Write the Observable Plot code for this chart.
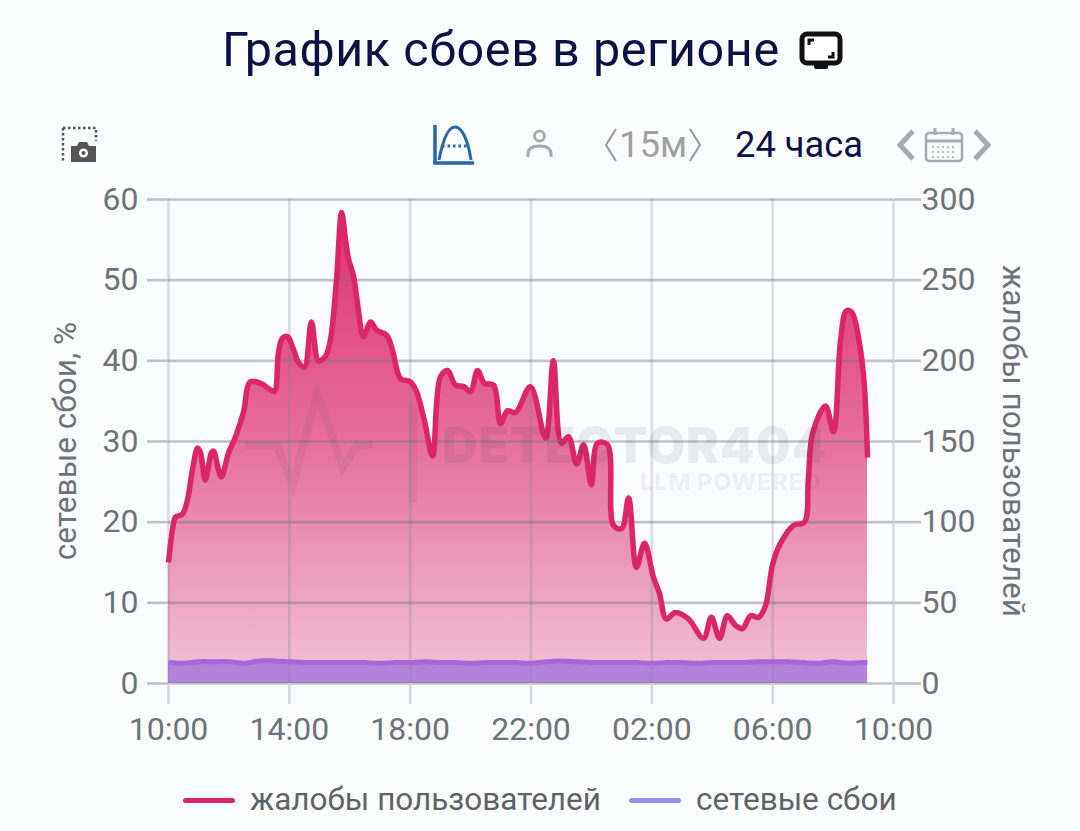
<!DOCTYPE html>
<html lang="ru"><head><meta charset="utf-8">
<script src="https://cdn.jsdelivr.net/npm/d3@7"></script>
<script src="https://cdn.jsdelivr.net/npm/@observablehq/plot@0.6"></script>
<style>
html,body{margin:0;padding:0;background:#fbfcfe;width:1080px;height:831px;overflow:hidden;font-family:Roboto,sans-serif}
.abs{position:absolute;white-space:nowrap}
#chart{position:absolute;left:0;top:170px}
#chart svg{background:transparent;overflow:visible}
.legline{position:absolute;height:5px;border-radius:3px;top:798px}
</style></head><body>
<div class="abs" style="left:222px;top:21px;font-size:48.5px;line-height:58px;color:#0b1145;letter-spacing:.58px">График сбоев в регионе</div>
<svg class="abs" style="left:798px;top:30px" width="46" height="42" viewBox="0 0 46 42"><rect x="4" y="4" width="38" height="29" rx="5" fill="#fff" stroke="#111" stroke-width="5"/><path d="M11 15V10H16M35 22V27H30" fill="none" stroke="#111" stroke-width="3"/><rect x="16" y="33" width="14" height="6" rx="2" fill="#111"/></svg>
<svg class="abs" style="left:60px;top:125px" width="40" height="40" viewBox="0 0 40 40"><path d="M3 3H36V16M3 3V37" fill="none" stroke="#555" stroke-width="2.5" stroke-dasharray="2.5 2.5"/><path d="M11 21H17L19 17H27L29 21H36V37H11Z" fill="#555"/><circle cx="23.5" cy="28" r="4.5" fill="#fff"/><circle cx="23.5" cy="28" r="2" fill="#555"/></svg>
<svg class="abs" style="left:430px;top:122px" width="48" height="46" viewBox="0 0 48 46"><path d="M5 3V41H44" fill="none" stroke="#2467ad" stroke-width="3.5"/><path d="M9 38C14 12 20 5 25 5C32 5 38 18 41 38" fill="none" stroke="#2467ad" stroke-width="3"/><path d="M12 24H39" stroke="#2467ad" stroke-width="3" stroke-dasharray="2.5 3"/></svg>
<svg class="abs" style="left:524px;top:128px" width="32" height="32" viewBox="0 0 32 32"><circle cx="15.5" cy="8" r="5" fill="none" stroke="#aaa" stroke-width="3"/><path d="M4 29V26C4 20 9 18 15.5 18S27 20 27 26V29" fill="none" stroke="#aaa" stroke-width="3"/></svg>
<svg class="abs" style="left:600px;top:126px" width="22" height="38" viewBox="0 0 22 38"><path d="M16 3L6 19L16 35" fill="none" stroke="#999" stroke-width="2"/></svg>
<div class="abs" style="left:619px;top:124px;font-size:36.5px;line-height:42px;color:#a0a0a0">15м</div>
<svg class="abs" style="left:684px;top:126px" width="22" height="38" viewBox="0 0 22 38"><path d="M6 3L16 19L6 35" fill="none" stroke="#999" stroke-width="2"/></svg>
<div class="abs" style="left:735px;top:124px;font-size:36.3px;line-height:42px;color:#0b1145">24 часа</div>
<svg class="abs" style="left:894px;top:126px" width="104" height="38" viewBox="0 0 104 38"><path d="M19 5L6 19L19 33" fill="none" stroke="#aaa" stroke-width="5"/><path d="M81 5L94 19L81 33" fill="none" stroke="#aaa" stroke-width="5"/><rect x="32" y="7" width="36" height="28" rx="3" fill="none" stroke="#aaa" stroke-width="2.5"/><path d="M32 15H68" stroke="#aaa" stroke-width="3"/><path d="M41 2V9M59 2V9" stroke="#aaa" stroke-width="3"/><path d="M38 21H63M38 26H63M38 31H63" stroke="#bbb" stroke-width="2" stroke-dasharray="2 3"/></svg>
<div id="chart"></div>
<svg class="abs" style="left:235px;top:385px;opacity:.07;pointer-events:none" width="185" height="125" viewBox="0 0 185 125"><path d="M10 60H42L58 100L82 8L108 82L122 60H138M178 20V118" fill="none" stroke="#2c3550" stroke-width="8"/></svg>
<div class="abs" style="left:442px;top:426px;font-size:49px;line-height:40px;font-weight:900;letter-spacing:1.2px;color:rgba(44,53,80,.09);font-family:Inter,Roboto,sans-serif;pointer-events:none">DETECTOR404</div>
<div class="abs" style="left:640px;top:468px;font-size:23.5px;line-height:28px;font-weight:800;letter-spacing:.8px;color:rgba(44,53,80,.07);font-family:Inter,Roboto,sans-serif;pointer-events:none">LLM POWERED</div>
<div class="legline" style="left:183px;width:52px;background:#dd2668"></div>
<div class="abs" style="left:250px;top:781px;font-size:31.5px;line-height:38px;color:#5f6368">жалобы пользователей</div>
<div class="legline" style="left:629px;width:52px;background:#9b8cf0"></div>
<div class="abs" style="left:696px;top:781px;font-size:31.5px;line-height:38px;color:#5f6368">сетевые сбои</div>
<script>
const complaintHours = [0,.13,.23,.46,.63,.79,.96,1.06,1.22,1.42,1.49,1.66,1.75,1.99,2.22,2.48,2.71,3.05,3.38,3.51,3.64,3.77,3.94,4.14,4.30,4.50,4.73,4.97,5.20,5.36,5.56,5.73,5.86,5.96,6.12,6.29,6.45,6.69,6.89,7.22,7.41,7.68,8.01,8.21,8.47,8.74,9.0,9.24,9.50,9.77,10.0,10.23,10.46,10.76,10.99,11.22,11.49,11.98,12.48,12.74,13.01,13.24,13.51,13.74,14.0,14.2,14.53,14.73,15.0,15.23,15.49,15.76,16.05,16.25,16.48,16.78,17.21,17.71,17.97,18.24,18.5,18.77,19.0,19.27,19.53,19.76,20.0,20.26,20.69,21.05,21.18,21.32,21.75,22.01,22.25,22.44,22.62,22.88,23.03,23.14];
const complaints = [75,95,103,105,114,132,146,143,126,143,144,132,128,143,153,168,187,186,182,181,205,214,215,207,199,196,224,200,203,213,250,292,275,263,253,231,215,224,219,216,207,189,187,181,163,141,190,194,185,184,181,194,186,185,161,169,168,184,152,200,149,153,136,148,123,149,148,98,96,115,72,87,66,56,40,44,40,28,41,28,42,36,34,42,41,48,74,87,98,100,126,155,172,156,213,231,230,210,186,140];
const networkHours = [0,.5,1,1.5,2,2.5,3,3.5,4,4.5,5,5.5,6,6.5,7,7.5,8,8.5,9,9.5,10,10.5,11,11.5,12,12.5,13,13.5,14,14.5,15,15.5,16,16.5,17,17.5,18,18.5,19,19.5,20,20.5,21,21.5,22,22.5,23,23.14];
const networkPct = [2.6,2.5,2.7,2.7,2.7,2.5,2.8,2.8,2.7,2.6,2.6,2.6,2.6,2.6,2.5,2.6,2.6,2.7,2.6,2.6,2.5,2.6,2.6,2.6,2.5,2.7,2.8,2.7,2.6,2.6,2.6,2.6,2.5,2.6,2.6,2.5,2.6,2.6,2.6,2.7,2.7,2.7,2.6,2.5,2.7,2.5,2.6,2.6];
const xTicks = [0,4,8,12,16,20,24];
const leftTicks = [0,10,20,30,40,50,60];
const rightFactor = 5;
const base = Date.UTC(2024,0,1,10);
const toDate = h => new Date(base + h*3600e3);
const compl = complaintHours.map((h,i)=>({t:toDate(h),v:complaints[i]/rightFactor}));
const net = networkHours.map((h,i)=>({t:toDate(h),v:networkPct[i]}));
const axisColor = "#6f7378";
const gradient = () => {
  const s = d3.create("svg:defs");
  const g = s.append("linearGradient").attr("id","pinkfade").attr("x1",0).attr("x2",0).attr("y1",0).attr("y2",1);
  g.append("stop").attr("offset","0%").attr("stop-color","#dc2e6e").attr("stop-opacity",.98);
  g.append("stop").attr("offset","45%").attr("stop-color","#e4628f").attr("stop-opacity",.95);
  g.append("stop").attr("offset","100%").attr("stop-color","#f0c0d4").attr("stop-opacity",.95);
  return s.node();
};
const fmt = d3.utcFormat("%H:%M");
const chart = Plot.plot({
  width:1080,height:590,marginLeft:168,marginRight:187,marginTop:29,marginBottom:77,
  style:{background:"transparent",fontFamily:"Roboto,sans-serif"},
  x:{type:"utc",domain:[toDate(0),toDate(24)]},
  y:{domain:[0,60]},
  marks:[
    gradient,
    Plot.areaY(compl,{x:"t",y:"v",curve:"catmull-rom",fill:"url(#pinkfade)"}),
    Plot.areaY(net,{x:"t",y:"v",curve:"catmull-rom",fill:"#a977dc",fillOpacity:.85}),
    Plot.gridX(xTicks.map(toDate),{stroke:"#79808a",strokeOpacity:.25,strokeWidth:2.6}),
    Plot.gridY(leftTicks,{stroke:"#70757c",strokeOpacity:.42,strokeWidth:2.6}),
    Plot.lineY(net,{x:"t",y:"v",curve:"catmull-rom",stroke:"#a468da",strokeWidth:5,strokeLinecap:"butt"}),
    Plot.lineY(compl,{x:"t",y:"v",curve:"catmull-rom",stroke:"#dd2668",strokeWidth:5.5,strokeLinecap:"butt"}),
    Plot.axisX({ticks:xTicks.map(toDate),tickFormat:fmt,tickSize:21,tickPadding:13,fontSize:32,color:axisColor,stroke:"#d6d8dc",strokeWidth:2.6,strokeOpacity:1,label:null}),
    Plot.axisY({anchor:"left",ticks:leftTicks,tickSize:21,tickPadding:9,fontSize:32,color:axisColor,stroke:"#bfc2c7",strokeWidth:2.6,strokeOpacity:1,label:null}),
    Plot.axisY({anchor:"right",ticks:leftTicks,tickFormat:d=>d*rightFactor,tickSize:27,tickPadding:1,fontSize:32,color:axisColor,stroke:"#bfc2c7",strokeWidth:2.6,strokeOpacity:1,label:null})
  ]
});
document.getElementById("chart").append(chart);
</script>
<div class="abs" style="left:65px;top:441px;transform:translate(-50%,-50%) rotate(-90deg);font-size:31.6px;color:#6f7378">сетевые сбои, %</div>
<div class="abs" style="left:1013px;top:441px;transform:translate(-50%,-50%) rotate(90deg);font-size:31.6px;color:#6f7378">жалобы пользователей</div>
</body></html>
